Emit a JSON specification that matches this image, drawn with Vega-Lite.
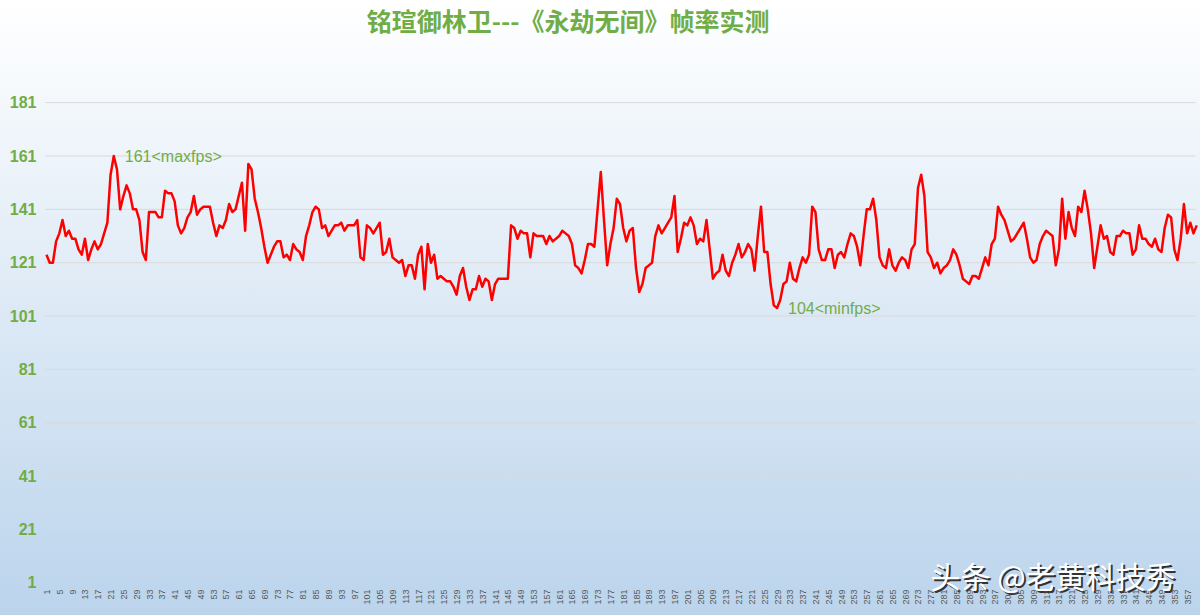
{
  "$schema": "https://vega.github.io/schema/vega-lite/v6.json",
  "width": 1200,
  "height": 615,
  "padding": 0,
  "autosize": {"type": "none"},
  "background": "#FFFFFF",
  "view": {
    "stroke": null,
    "fill": {"gradient": "linear", "x1": 0, "y1": 0, "x2": 0, "y2": 1, "stops": [{"offset": 0, "color": "#FFFFFF"}, {"offset": 1, "color": "#BBD4EC"}]}
  },
  "title": {
    "text": "铭瑄御林卫---《永劫无间》帧率实测",
    "font": "Noto Sans CJK SC",
    "fontSize": 25,
    "fontWeight": "bold",
    "color": "#70AD47",
    "anchor": "middle",
    "baseline": "middle",
    "offset": -22,
    "dx": -32,
    "dy": 26
  },
  "datasets": {
    "fps": [
      {"i":1,"v":124},{"i":2,"v":121},{"i":3,"v":121},{"i":4,"v":129},{"i":5,"v":132},{"i":6,"v":137},{"i":7,"v":131},{"i":8,"v":133},{"i":9,"v":130},{"i":10,"v":130},
      {"i":11,"v":126},{"i":12,"v":124},{"i":13,"v":130},{"i":14,"v":122},{"i":15,"v":126},{"i":16,"v":129},{"i":17,"v":126},{"i":18,"v":128},{"i":19,"v":132},{"i":20,"v":136},
      {"i":21,"v":154},{"i":22,"v":161},{"i":23,"v":156},{"i":24,"v":141},{"i":25,"v":146},{"i":26,"v":150},{"i":27,"v":147},{"i":28,"v":141},{"i":29,"v":141},{"i":30,"v":137},
      {"i":31,"v":125},{"i":32,"v":122},{"i":33,"v":140},{"i":34,"v":140},{"i":35,"v":140},{"i":36,"v":138},{"i":37,"v":138},{"i":38,"v":148},{"i":39,"v":147},{"i":40,"v":147},
      {"i":41,"v":144},{"i":42,"v":135},{"i":43,"v":132},{"i":44,"v":134},{"i":45,"v":138},{"i":46,"v":140},{"i":47,"v":146},{"i":48,"v":139},{"i":49,"v":141},{"i":50,"v":142},
      {"i":51,"v":142},{"i":52,"v":142},{"i":53,"v":136},{"i":54,"v":131},{"i":55,"v":135},{"i":56,"v":134},{"i":57,"v":137},{"i":58,"v":143},{"i":59,"v":140},{"i":60,"v":141},
      {"i":61,"v":146},{"i":62,"v":151},{"i":63,"v":133},{"i":64,"v":158},{"i":65,"v":156},{"i":66,"v":145},{"i":67,"v":140},{"i":68,"v":134},{"i":69,"v":127},{"i":70,"v":121},
      {"i":71,"v":124},{"i":72,"v":127},{"i":73,"v":129},{"i":74,"v":129},{"i":75,"v":123},{"i":76,"v":124},{"i":77,"v":122},{"i":78,"v":128},{"i":79,"v":126},{"i":80,"v":125},
      {"i":81,"v":122},{"i":82,"v":131},{"i":83,"v":135},{"i":84,"v":140},{"i":85,"v":142},{"i":86,"v":141},{"i":87,"v":134},{"i":88,"v":135},{"i":89,"v":131},{"i":90,"v":133},
      {"i":91,"v":135},{"i":92,"v":135},{"i":93,"v":136},{"i":94,"v":133},{"i":95,"v":135},{"i":96,"v":135},{"i":97,"v":135},{"i":98,"v":137},{"i":99,"v":123},{"i":100,"v":122},
      {"i":101,"v":135},{"i":102,"v":134},{"i":103,"v":132},{"i":104,"v":134},{"i":105,"v":136},{"i":106,"v":124},{"i":107,"v":125},{"i":108,"v":130},{"i":109,"v":123},{"i":110,"v":122},
      {"i":111,"v":121},{"i":112,"v":122},{"i":113,"v":116},{"i":114,"v":120},{"i":115,"v":120},{"i":116,"v":115},{"i":117,"v":124},{"i":118,"v":127},{"i":119,"v":111},{"i":120,"v":128},
      {"i":121,"v":121},{"i":122,"v":124},{"i":123,"v":115},{"i":124,"v":116},{"i":125,"v":115},{"i":126,"v":114},{"i":127,"v":114},{"i":128,"v":112},{"i":129,"v":109},{"i":130,"v":116},
      {"i":131,"v":119},{"i":132,"v":112},{"i":133,"v":107},{"i":134,"v":111},{"i":135,"v":111},{"i":136,"v":116},{"i":137,"v":112},{"i":138,"v":115},{"i":139,"v":114},{"i":140,"v":107},
      {"i":141,"v":113},{"i":142,"v":115},{"i":143,"v":115},{"i":144,"v":115},{"i":145,"v":115},{"i":146,"v":135},{"i":147,"v":134},{"i":148,"v":130},{"i":149,"v":133},{"i":150,"v":132},
      {"i":151,"v":132},{"i":152,"v":123},{"i":153,"v":132},{"i":154,"v":131},{"i":155,"v":131},{"i":156,"v":131},{"i":157,"v":128},{"i":158,"v":131},{"i":159,"v":129},{"i":160,"v":130},
      {"i":161,"v":131},{"i":162,"v":133},{"i":163,"v":132},{"i":164,"v":131},{"i":165,"v":128},{"i":166,"v":120},{"i":167,"v":119},{"i":168,"v":117},{"i":169,"v":122},{"i":170,"v":128},
      {"i":171,"v":128},{"i":172,"v":127},{"i":173,"v":141},{"i":174,"v":155},{"i":175,"v":137},{"i":176,"v":120},{"i":177,"v":128},{"i":178,"v":134},{"i":179,"v":145},{"i":180,"v":143},
      {"i":181,"v":134},{"i":182,"v":129},{"i":183,"v":133},{"i":184,"v":134},{"i":185,"v":119},{"i":186,"v":110},{"i":187,"v":113},{"i":188,"v":119},{"i":189,"v":120},{"i":190,"v":121},
      {"i":191,"v":131},{"i":192,"v":135},{"i":193,"v":132},{"i":194,"v":134},{"i":195,"v":136},{"i":196,"v":138},{"i":197,"v":146},{"i":198,"v":125},{"i":199,"v":130},{"i":200,"v":136},
      {"i":201,"v":135},{"i":202,"v":138},{"i":203,"v":135},{"i":204,"v":128},{"i":205,"v":130},{"i":206,"v":129},{"i":207,"v":137},{"i":208,"v":126},{"i":209,"v":115},{"i":210,"v":117},
      {"i":211,"v":118},{"i":212,"v":124},{"i":213,"v":118},{"i":214,"v":116},{"i":215,"v":121},{"i":216,"v":124},{"i":217,"v":128},{"i":218,"v":123},{"i":219,"v":125},{"i":220,"v":128},
      {"i":221,"v":126},{"i":222,"v":118},{"i":223,"v":131},{"i":224,"v":142},{"i":225,"v":125},{"i":226,"v":125},{"i":227,"v":113},{"i":228,"v":105},{"i":229,"v":104},{"i":230,"v":107},
      {"i":231,"v":113},{"i":232,"v":114},{"i":233,"v":121},{"i":234,"v":115},{"i":235,"v":114},{"i":236,"v":119},{"i":237,"v":123},{"i":238,"v":121},{"i":239,"v":124},{"i":240,"v":142},
      {"i":241,"v":140},{"i":242,"v":126},{"i":243,"v":122},{"i":244,"v":122},{"i":245,"v":126},{"i":246,"v":126},{"i":247,"v":119},{"i":248,"v":124},{"i":249,"v":125},{"i":250,"v":123},
      {"i":251,"v":128},{"i":252,"v":132},{"i":253,"v":131},{"i":254,"v":127},{"i":255,"v":120},{"i":256,"v":131},{"i":257,"v":141},{"i":258,"v":141},{"i":259,"v":145},{"i":260,"v":137},
      {"i":261,"v":123},{"i":262,"v":120},{"i":263,"v":119},{"i":264,"v":126},{"i":265,"v":120},{"i":266,"v":118},{"i":267,"v":121},{"i":268,"v":123},{"i":269,"v":122},{"i":270,"v":119},
      {"i":271,"v":126},{"i":272,"v":128},{"i":273,"v":149},{"i":274,"v":154},{"i":275,"v":146},{"i":276,"v":125},{"i":277,"v":123},{"i":278,"v":119},{"i":279,"v":121},{"i":280,"v":117},
      {"i":281,"v":119},{"i":282,"v":120},{"i":283,"v":122},{"i":284,"v":126},{"i":285,"v":124},{"i":286,"v":120},{"i":287,"v":115},{"i":288,"v":114},{"i":289,"v":113},{"i":290,"v":116},
      {"i":291,"v":116},{"i":292,"v":115},{"i":293,"v":119},{"i":294,"v":123},{"i":295,"v":120},{"i":296,"v":128},{"i":297,"v":130},{"i":298,"v":142},{"i":299,"v":139},{"i":300,"v":137},
      {"i":301,"v":133},{"i":302,"v":129},{"i":303,"v":130},{"i":304,"v":132},{"i":305,"v":134},{"i":306,"v":136},{"i":307,"v":130},{"i":308,"v":123},{"i":309,"v":121},{"i":310,"v":122},
      {"i":311,"v":128},{"i":312,"v":131},{"i":313,"v":133},{"i":314,"v":132},{"i":315,"v":131},{"i":316,"v":120},{"i":317,"v":126},{"i":318,"v":145},{"i":319,"v":130},{"i":320,"v":140},
      {"i":321,"v":134},{"i":322,"v":131},{"i":323,"v":142},{"i":324,"v":140},{"i":325,"v":148},{"i":326,"v":141},{"i":327,"v":132},{"i":328,"v":119},{"i":329,"v":127},{"i":330,"v":135},
      {"i":331,"v":130},{"i":332,"v":131},{"i":333,"v":125},{"i":334,"v":124},{"i":335,"v":131},{"i":336,"v":131},{"i":337,"v":133},{"i":338,"v":132},{"i":339,"v":132},{"i":340,"v":124},
      {"i":341,"v":126},{"i":342,"v":135},{"i":343,"v":130},{"i":344,"v":130},{"i":345,"v":128},{"i":346,"v":127},{"i":347,"v":130},{"i":348,"v":126},{"i":349,"v":125},{"i":350,"v":134},
      {"i":351,"v":139},{"i":352,"v":138},{"i":353,"v":126},{"i":354,"v":122},{"i":355,"v":130},{"i":356,"v":143},{"i":357,"v":132},{"i":358,"v":136},{"i":359,"v":132},{"i":360,"v":135}
    ],
    "grid": [{"v":21},{"v":41},{"v":61},{"v":81},{"v":101},{"v":121},{"v":141},{"v":161},{"v":181}],
    "notes": [
      {"i":22,"v":161,"label":"161<maxfps>"},
      {"i":229,"v":104,"label":"104<minfps>"}
    ]
  },
  "layer": [
    {
      "data": {"name": "grid"},
      "mark": {"type": "rule", "color": "#D9D9D9", "strokeWidth": 1},
      "encoding": {
        "x": {"datum": 0.55, "type": "quantitative"},
        "x2": {"datum": 359.6},
        "y": {"field": "v", "type": "quantitative"}
      }
    },
    {
      "data": {"name": "fps"},
      "mark": {"type": "line", "color": "#FF0000", "strokeWidth": 2.5, "strokeJoin": "round"},
      "encoding": {
        "x": {
          "field": "i",
          "type": "quantitative",
          "scale": {"domain": [-13.51, 361.02], "nice": false, "zero": false},
          "axis": {
            "orient": "bottom",
            "offset": -28,
            "values": [1,5,9,13,17,21,25,29,33,37,41,45,49,53,57,61,65,69,73,77,81,85,89,93,97,101,105,109,113,117,121,125,129,133,137,141,145,149,153,157,161,165,169,173,177,181,185,189,193,197,201,205,209,213,217,221,225,229,233,237,241,245,249,253,257,261,265,269,273,277,281,285,289,293,297,301,305,309,313,317,321,325,329,333,337,341,345,349,353,357],
            "tickCount": 200,
            "labelAngle": -90,
            "labelFontSize": 9,
            "labelFont": "Liberation Sans",
            "labelColor": "#595959",
            "labelPadding": 2,
            "labelOverlap": false,
            "labelFlush": false,
            "ticks": false,
            "domain": false,
            "grid": false,
            "zindex": 2,
            "title": "头条 @老黄科技秀",
            "titleX": 930,
            "titleY": -9,
            "titleAngle": 0,
            "titleAlign": "left",
            "titleBaseline": "middle",
            "titleColor": "#FFFFFF",
            "titleFont": "Noto Sans CJK SC",
            "titleFontSize": 30,
            "titleFontWeight": "normal"
          }
        },
        "y": {
          "field": "v",
          "type": "quantitative",
          "scale": {"domain": [-11.1, 219.5], "nice": false, "zero": false},
          "axis": {
            "orient": "left",
            "offset": -36,
            "values": [1,21,41,61,81,101,121,141,161,181],
            "tickCount": 20,
            "labelFontSize": 16,
            "labelFont": "Liberation Sans",
            "labelFontWeight": "bold",
            "labelColor": "#70AD47",
            "labelPadding": 0,
            "labelFlush": false,
            "ticks": false,
            "domain": false,
            "grid": false,
            "zindex": 1,
            "title": "头条 @老黄科技秀",
            "titleX": 896,
            "titleY": 580,
            "titleAngle": 0,
            "titleAlign": "left",
            "titleBaseline": "middle",
            "titleColor": "#333333",
            "titleFont": "Noto Sans CJK SC",
            "titleFontSize": 30,
            "titleFontWeight": "normal"
          }
        }
      }
    },
    {
      "data": {"name": "notes"},
      "mark": {"type": "text", "align": "left", "baseline": "middle", "dx": 11, "dy": 1, "fontSize": 16, "font": "Liberation Sans", "color": "#70AD47"},
      "encoding": {
        "x": {"field": "i", "type": "quantitative"},
        "y": {"field": "v", "type": "quantitative"},
        "text": {"field": "label"}
      }
    }
  ]
}
